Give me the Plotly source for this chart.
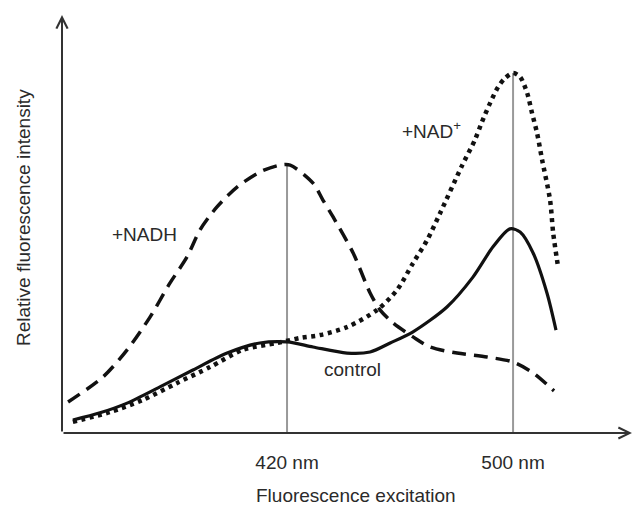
import plotly.graph_objects as go

# ---- data (x: excitation wavelength in nm, y: relative fluorescence, arbitrary units) ----
nadh_x = [342.5, 354.9, 363.4, 371.5, 378.6, 384.6, 389.2, 395.2, 402.3, 410.4, 417.5, 421.1, 429.2, 432.7,
          436.3, 443.4, 449.4, 452.9, 457.5, 464.6, 470.6, 480.2, 490.8, 500.0, 507.1, 514.5]
nadh_y = [8.6, 15.6, 23.1, 32.2, 41.7, 48.9, 56.4, 62.8, 68.3, 72.5, 74.4, 74.4, 69.4, 64.7,
          60.0, 50.0, 38.9, 34.2, 30.6, 26.7, 23.9, 22.2, 21.1, 19.7, 16.7, 11.7]

ctrl_x = [344.2, 353.8, 363.4, 375.0, 386.7, 398.8, 410.4, 420.0, 429.2, 441.2, 449.4, 456.5, 464.6,
          476.6, 485.8, 492.9, 498.9, 502.5, 507.1, 512.0, 515.2]
ctrl_y = [3.6, 5.6, 8.3, 12.8, 17.5, 22.2, 25.0, 25.3, 23.9, 22.2, 22.5, 25.0, 28.1,
          35.0, 43.3, 51.7, 56.7, 55.8, 50.0, 38.9, 28.6]

nad_x = [344.2, 357.3, 369.0, 381.1, 392.7, 404.4, 416.5, 424.6, 431.7, 441.2, 451.9, 458.9, 464.6,
         469.6, 474.2, 481.9, 486.5, 489.0, 491.9, 494.7, 497.2, 500.0, 502.5, 505.0, 506.7, 508.5,
         510.3, 513.1, 514.2, 516.0]
nad_y = [3.1, 5.8, 9.2, 13.9, 18.3, 23.1, 25.0, 26.4, 27.2, 29.4, 34.2, 39.7, 47.2,
         53.6, 61.1, 74.2, 81.4, 86.4, 91.7, 96.1, 98.6, 100.0, 98.9, 94.4, 88.9, 83.3,
         75.8, 64.7, 55.6, 45.8]

x_ticks = [420, 500]
x_tick_text = ["420 nm", "500 nm"]
x_title = "Fluorescence excitation"
y_title = "Relative fluorescence intensity"
labels = ["+NADH", "+NAD<sup>+</sup>", "control"]

X_RANGE = [340.35, 542.1]
Y_RANGE = [0, 116.1]
FONT = "Liberation Sans, Arial, sans-serif"
FS = 19
TXT = "#2a2a2a"
INK = "#111111"

fig = go.Figure()

# grey guide lines from the baseline up to the peak at each marked wavelength
fig.add_trace(go.Scatter(x=[x_ticks[0], x_ticks[0]], y=[0, max(nadh_y)], mode="lines",
                         line=dict(color="#999999", width=2), hoverinfo="skip", showlegend=False))
fig.add_trace(go.Scatter(x=[x_ticks[1], x_ticks[1]], y=[0, max(nad_y)], mode="lines",
                         line=dict(color="#999999", width=2), hoverinfo="skip", showlegend=False))

fig.add_trace(go.Scatter(x=nadh_x, y=nadh_y, mode="lines", name="+NADH",
                         line=dict(color=INK, width=3.5, dash="14px,8px", shape="spline", smoothing=0.8),
                         showlegend=False))
fig.add_trace(go.Scatter(x=nad_x, y=nad_y, mode="lines", name="+NAD+",
                         line=dict(color=INK, width=4.5, dash="4px,4.5px", shape="spline", smoothing=0.8),
                         showlegend=False))
fig.add_trace(go.Scatter(x=ctrl_x, y=ctrl_y, mode="lines", name="control",
                         line=dict(color=INK, width=3.2, shape="spline", smoothing=0.8),
                         showlegend=False))

annos = [
    # x axis with arrow
    dict(xref="x domain", yref="y domain", x=1.0, y=0.0, axref="x domain", ayref="y domain", ax=0.0, ay=0.0,
         showarrow=True, arrowhead=5, arrowsize=1.1, arrowwidth=2, arrowcolor="#333333", text=""),
    # y axis with arrow
    dict(xref="x domain", yref="y domain", x=0.0, y=1.0, axref="x domain", ayref="y domain", ax=0.0, ay=0.0,
         showarrow=True, arrowhead=5, arrowsize=1.1, arrowwidth=2, arrowcolor="#333333", text=""),
    dict(xref="x", yref="y", x=369.7, y=55.0, text=labels[0], showarrow=False,
         font=dict(family=FONT, size=FS, color=TXT)),
    dict(xref="x", yref="y", x=471.3, y=84.2, text=labels[1], showarrow=False,
         font=dict(family=FONT, size=FS, color=TXT)),
    dict(xref="x", yref="y", x=443.0, y=17.5, text=labels[2], showarrow=False,
         font=dict(family=FONT, size=FS, color=TXT)),
    dict(xref="paper", yref="paper", x=(356 - 62) / 570, y=(433 - 495) / 418, yanchor="middle",
         text=x_title, showarrow=False, font=dict(family=FONT, size=FS, color=TXT)),
    dict(xref="paper", yref="paper", x=(23 - 62) / 570, y=(433 - 218) / 418, xanchor="center",
         yanchor="middle", textangle=-90, text=y_title, showarrow=False,
         font=dict(family=FONT, size=FS, color=TXT)),
]

fig.update_layout(
    width=634, height=509,
    margin=dict(l=62, r=2, t=15, b=76),
    paper_bgcolor="white", plot_bgcolor="white",
    showlegend=False,
    xaxis=dict(range=X_RANGE, showgrid=False, zeroline=False, showline=False, automargin=False,
               tickmode="array", tickvals=x_ticks, ticktext=x_tick_text,
               ticks="outside", ticklen=12, tickcolor="rgba(0,0,0,0)",
               tickfont=dict(family=FONT, size=FS, color=TXT)),
    yaxis=dict(range=Y_RANGE, showgrid=False, zeroline=False, showline=False, showticklabels=False,
               automargin=False),
    annotations=annos,
)

fig.write_html("out.html", config={"displayModeBar": False},
               post_script="document.body.style.margin='0';document.body.style.overflow='hidden';")
